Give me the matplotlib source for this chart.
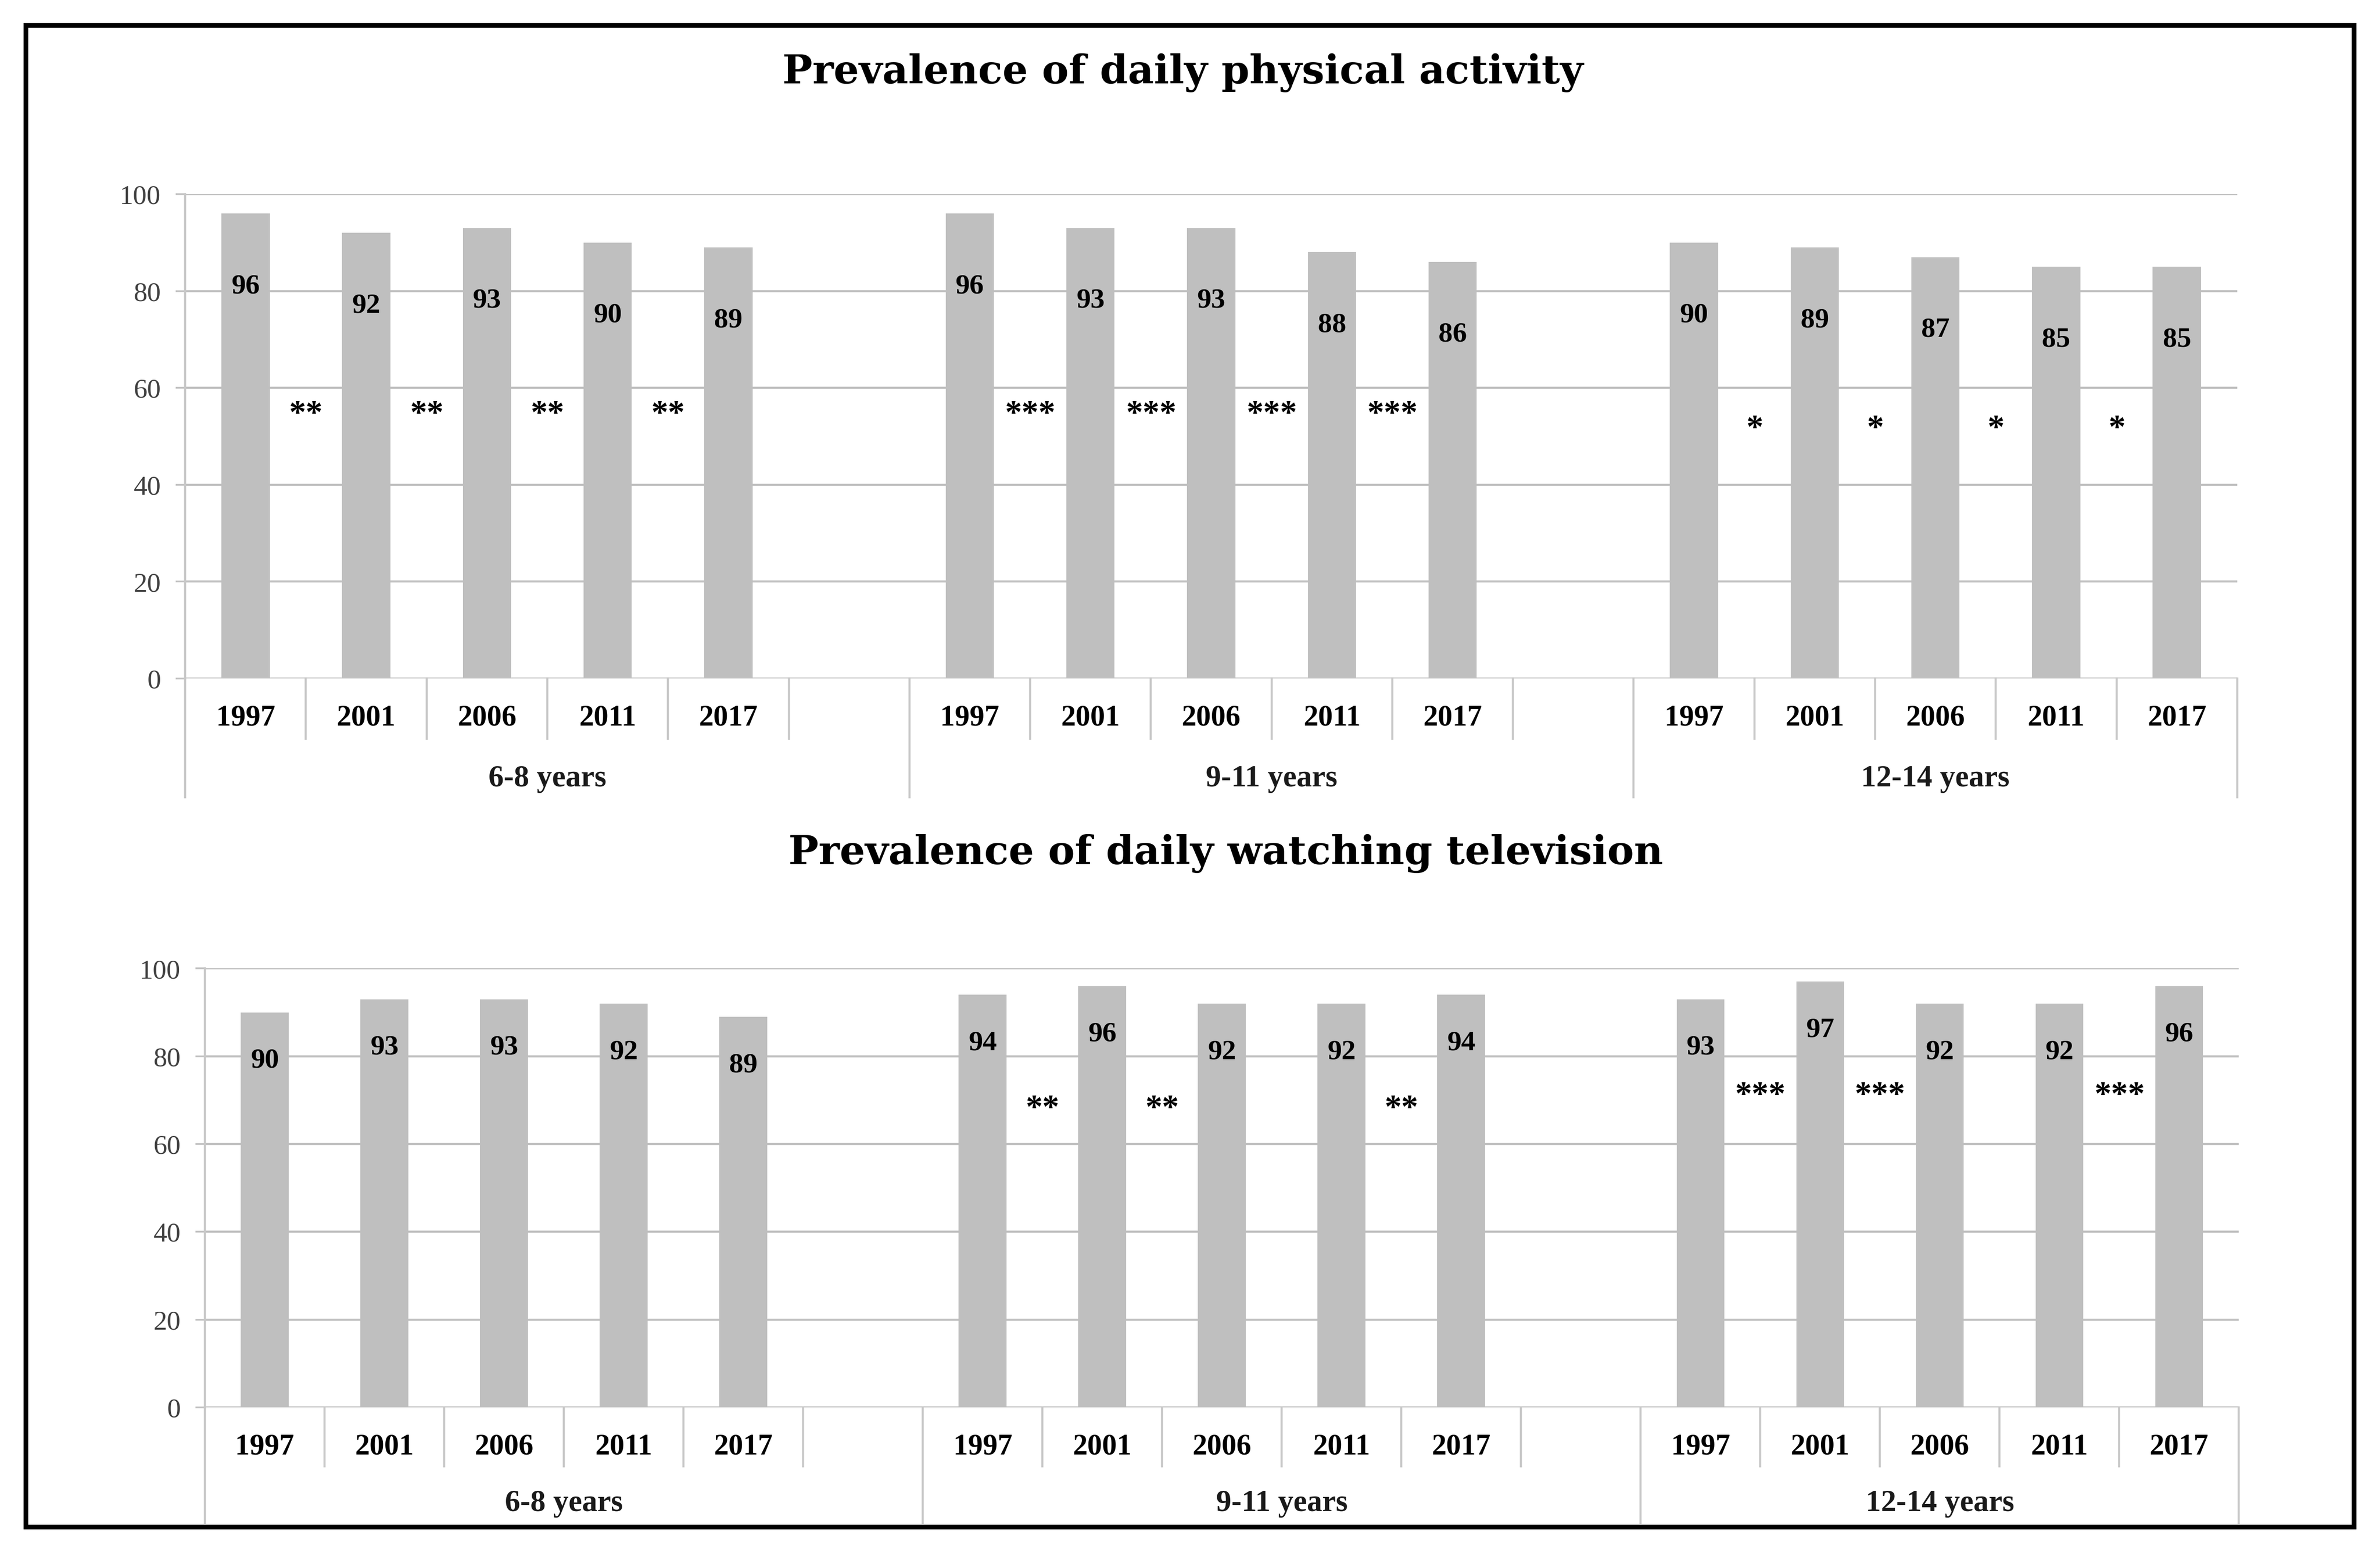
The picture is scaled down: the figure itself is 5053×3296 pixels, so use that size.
import matplotlib
matplotlib.use('Agg')
import matplotlib.pyplot as plt
import matplotlib.transforms as mtransforms
from matplotlib.patches import Rectangle

years = ['1997', '2001', '2006', '2011', '2017']
age_groups = ['6-8 years', '9-11 years', '12-14 years']

# prevalence (%) per age group, one value per survey year
activity = [[96, 92, 93, 90, 89],
            [96, 93, 93, 88, 86],
            [90, 89, 87, 85, 85]]
television = [[90, 93, 93, 92, 89],
              [94, 96, 92, 92, 94],
              [93, 97, 92, 92, 96]]

# significance between consecutive surveys (gap after year i)
activity_sig = [['**', '**', '**', '**'],
                ['***', '***', '***', '***'],
                ['*', '*', '*', '*']]
television_sig = [['', '', '', ''],
                  ['**', '**', '', '**'],
                  ['***', '***', '', '***']]

BAR = '#BFBFBF'
GRID = '#BFBFBF'
AXIS = '#C8C8C8'

plt.rcParams['font.family'] = ['Liberation Serif', 'DejaVu Serif']

fig = plt.figure(figsize=(15.68, 10.23), dpi=322.26)


def draw_panel(ax, values, sig, lab_off, star_y, yr_y, grp_y, yr_len, grp_len):
    xs, hs = [], []
    for g, vals in enumerate(values):
        for j, v in enumerate(vals):
            xs.append(6 * g + j + 0.5)
            hs.append(v)
    ax.bar(xs, hs, width=0.4, color=BAR, zorder=2)
    for x, h in zip(xs, hs):
        ax.text(x, h - lab_off, str(h), ha='center', va='center',
                fontsize=13.5, fontweight='bold', color='black', zorder=3)
    for g, marks in enumerate(sig):
        for j, m in enumerate(marks):
            if m:
                ax.text(6 * g + j + 1, star_y[g], m, ha='center', va='center',
                        fontsize=16, fontweight='bold', color='black', zorder=3)

    ax.set_xlim(0, 17)
    ax.set_ylim(0, 100)
    ax.set_yticks(range(0, 101, 20))
    ax.yaxis.grid(True, color=GRID, lw=1.0)
    ax.set_axisbelow(True)
    for s in ['top', 'right', 'bottom']:
        ax.spines[s].set_visible(False)
    ax.spines['left'].set_color(AXIS)
    ax.spines['left'].set_linewidth(1.0)
    ax.set_xticks([])
    ax.tick_params(axis='y', length=4.5, color=GRID, pad=7,
                   labelsize=13, labelcolor='#404040')

    trans = mtransforms.blended_transform_factory(ax.transData, ax.transAxes)
    for b in range(18):
        long_line = b in (0, 6, 12, 17)
        ax.plot([b, b], [0, -(grp_len if long_line else yr_len)], transform=trans,
                clip_on=False, color=AXIS, lw=1.0)
    for g in range(3):
        n = len(values[g])
        for j in range(n):
            ax.text(6 * g + j + 0.5, yr_y, years[j], transform=trans, ha='center',
                    va='center', fontsize=14, fontweight='bold', color='black')
        ctr = 6 * g + (3 if g < 2 else 2.5)
        ax.text(ctr, grp_y, age_groups[g], transform=trans, ha='center',
                va='center', fontsize=14.5, fontweight='bold', color='#1a1a1a')


ax1 = fig.add_axes([0.0778, 0.5630, 0.8622, 0.3118])
draw_panel(ax1, activity, activity_sig, 15, [54.5, 54.5, 51.5],
           -0.082, -0.207, 0.125, 0.245)

ax2 = fig.add_axes([0.0861, 0.0938, 0.8546, 0.2825])
draw_panel(ax2, television, television_sig, 11, [0, 68, 71],
           -0.09, -0.218, 0.135, 0.263)

fig.text(0.497, 0.953, 'Prevalence of daily physical activity', ha='center',
         va='center', fontsize=19, fontweight='bold', family='DejaVu Serif')
fig.text(0.515, 0.4506, 'Prevalence of daily watching television', ha='center',
         va='center', fontsize=19, fontweight='bold', family='DejaVu Serif')

fig.patches.append(Rectangle((0.0108, 0.0166), 0.9784, 0.9668, transform=fig.transFigure,
                             fill=False, lw=2.2, ec='black'))

fig.savefig('out.png', dpi=322.26, facecolor='white')
